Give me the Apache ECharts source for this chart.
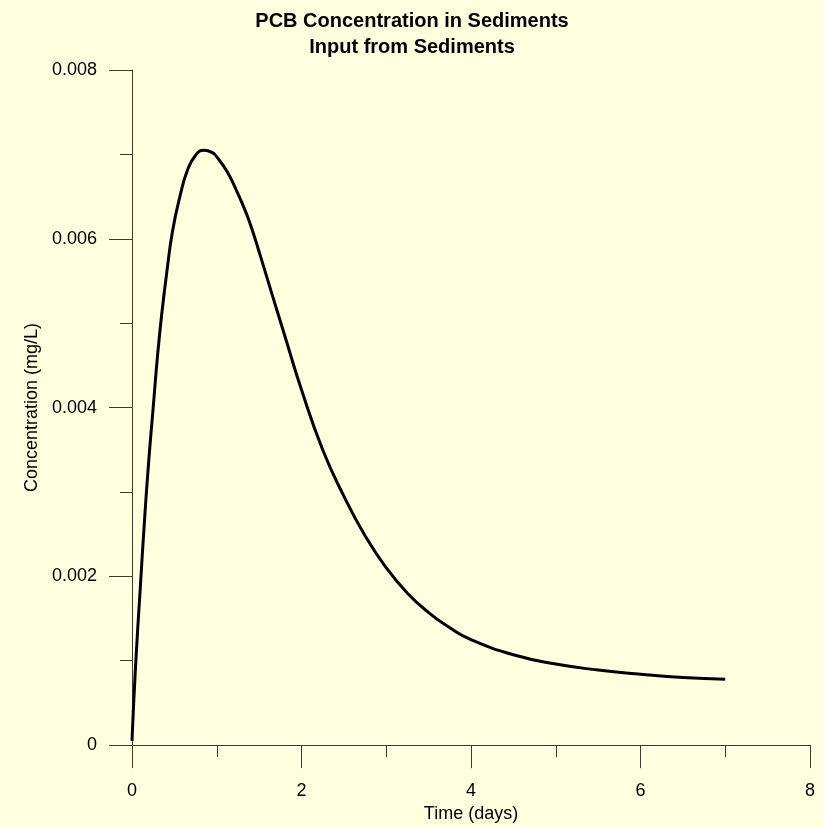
<!DOCTYPE html>
<html>
<head>
<meta charset="utf-8">
<title>PCB Concentration in Sediments</title>
<script src="https://cdn.jsdelivr.net/npm/echarts@6/dist/echarts.min.js"></script>
<style>
  html, body { margin: 0; padding: 0; background: #ffffe0; }
  #chart { width: 824px; height: 828px; }
</style>
</head>
<body>
<div id="chart"></div>
<script>
// Time (days) of each sample on the concentration curve
const timeDays = [
  0, 0.04, 0.1, 0.15, 0.2, 0.25, 0.3, 0.35, 0.41, 0.48, 0.57, 0.65, 0.75, 0.85,
  0.95, 1.0, 1.12, 1.22, 1.3, 1.39, 1.52, 1.65, 1.8, 2.0, 2.25, 2.5, 2.75, 3.0,
  3.25, 3.5, 3.75, 4.0, 4.5, 5.0, 5.5, 6.0, 6.5, 7.0
];
// PCB concentration in sediments (mg/L)
const concentration = [
  0.00005, 0.0009, 0.0019, 0.0027, 0.0034, 0.0040, 0.0046, 0.0051, 0.0056, 0.0061,
  0.00652, 0.0068, 0.00699, 0.00705, 0.00702, 0.00697, 0.0068, 0.0066, 0.00642,
  0.00619, 0.00578, 0.00535, 0.00486, 0.00421, 0.0035, 0.00295, 0.00248, 0.0021,
  0.0018, 0.00157, 0.00139, 0.00125, 0.00107, 0.00096, 0.00089, 0.00084, 0.0008,
  0.00078
];
const xTicks = [0, 2, 4, 6, 8];
const yTicks = [0, 0.002, 0.004, 0.006, 0.008];
const titleLines = ['PCB Concentration in Sediments', 'Input from Sediments'];

const points = timeDays.map((t, i) => [t, concentration[i]]);
const font = '"Liberation Sans", Arial, sans-serif';
const axisColor = '#3a3a30';

const chart = echarts.init(document.getElementById('chart'), null, { renderer: 'canvas' });
chart.setOption({
  backgroundColor: '#ffffe0',
  animation: false,
  title: {
    text: titleLines.join('\n'),
    left: 'center',
    top: 3,
    textStyle: { fontFamily: font, fontSize: 20, fontWeight: 'bold', color: '#000', lineHeight: 26 }
  },
  grid: { left: 132, right: 14, top: 70, bottom: 78, containLabel: false },
  xAxis: {
    type: 'value',
    min: xTicks[0],
    max: xTicks[xTicks.length - 1],
    interval: xTicks[1] - xTicks[0],
    name: 'Time (days)',
    nameLocation: 'middle',
    nameGap: 55,
    nameTextStyle: { fontFamily: font, fontSize: 18, color: '#000' },
    axisLine: { show: true, onZero: false, lineStyle: { color: axisColor, width: 1 } },
    axisTick: { show: true, inside: false, length: 23, lineStyle: { color: axisColor } },
    minorTick: { show: true, splitNumber: 2, length: 12, lineStyle: { color: axisColor } },
    axisLabel: { margin: 37, fontFamily: font, fontSize: 18, color: '#000' },
    splitLine: { show: false }
  },
  yAxis: {
    type: 'value',
    min: yTicks[0],
    max: yTicks[yTicks.length - 1],
    interval: yTicks[1] - yTicks[0],
    name: 'Concentration (mg/L)',
    nameLocation: 'middle',
    nameGap: 90,
    nameTextStyle: { fontFamily: font, fontSize: 18, color: '#000' },
    axisLine: { show: true, lineStyle: { color: axisColor, width: 1 } },
    axisTick: { show: true, inside: false, length: 23, lineStyle: { color: axisColor } },
    minorTick: { show: true, splitNumber: 2, length: 12, lineStyle: { color: axisColor } },
    axisLabel: {
      margin: 35, fontFamily: font, fontSize: 18, color: '#000',
      formatter: v => (v === 0 ? '0' : v.toFixed(3))
    },
    splitLine: { show: false }
  },
  series: [{
    type: 'line',
    data: points,
    smooth: 0.5,
    symbol: 'none',
    clip: false,
    lineStyle: { color: '#000', width: 3 }
  }]
});
</script>
</body>
</html>
